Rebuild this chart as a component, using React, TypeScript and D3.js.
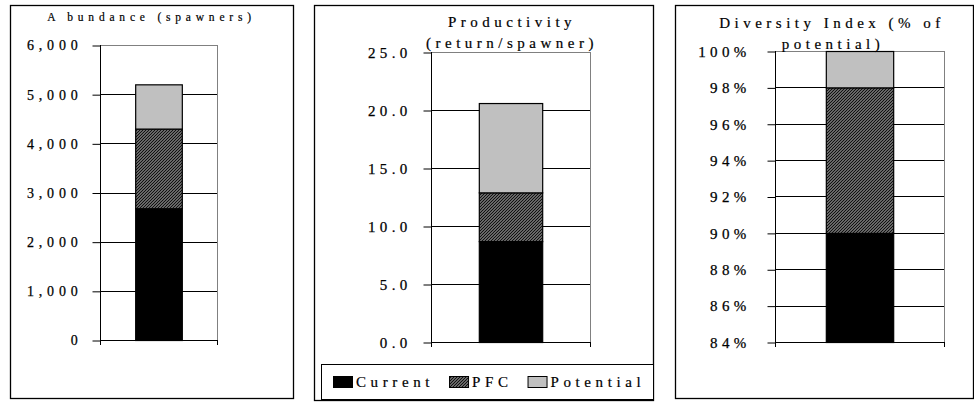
import React, {useEffect, useRef} from 'react';
import * as d3 from 'd3';

// series (segment sizes, stacked bottom to top)
const categories = ['Current', 'PFC', 'Potential'];
const abundanceValues = [2680, 1620, 900];
const productivityValues = [8.7, 4.2, 7.7];
const diversityValues = [0.9, 0.08, 0.02];

// tick labels
const abundanceTicks = [0, 1000, 2000, 3000, 4000, 5000, 6000];
const productivityTicks = [0, 5, 10, 15, 20, 25];
const diversityTicks = [0.84, 0.86, 0.88, 0.9, 0.92, 0.94, 0.96, 0.98, 1.0];

const colors: Record<string, string> = {
  Current: '#000000',
  PFC: 'url(#hatch)',
  Potential: '#c0c0c0',
};

const FONT = "'Liberation Serif', 'Times New Roman', serif";

interface PanelCfg {
  box: [number, number, number, number];
  plot: {left: number; right: number; top: number; bottom: number};
  values: number[];
  ticks: number[];
  format: (v: number) => string;
  tickSize: number;
  tickSpacing: number;
  tickPad: number;
  title: {text: string; x: number; y: number}[];
  titleSize: number;
  titleSpacing: number;
}

const panels: PanelCfg[] = [
  {
    box: [10, 5, 293, 398],
    plot: {left: 100, right: 217, top: 45, bottom: 340},
    values: abundanceValues,
    ticks: abundanceTicks,
    format: d3.format(','),
    tickSize: 14,
    tickSpacing: 4.8,
    tickPad: 10,
    title: [{text: 'A bundance (spawners)', x: 151.5, y: 21}],
    titleSize: 11.5,
    titleSpacing: 4.8,
  },
  {
    box: [314, 5, 653, 400],
    plot: {left: 431, right: 590, top: 52, bottom: 342},
    values: productivityValues,
    ticks: productivityTicks,
    format: d3.format('.1f'),
    tickSize: 15,
    tickSpacing: 4.3,
    tickPad: 12,
    title: [
      {text: 'Productivity', x: 512, y: 27},
      {text: '(return/spawner)', x: 512, y: 48},
    ],
    titleSize: 15,
    titleSpacing: 4.5,
  },
  {
    box: [675, 5, 973, 398],
    plot: {left: 775, right: 944, top: 51, bottom: 342},
    values: diversityValues,
    ticks: diversityTicks,
    format: d3.format('.0%'),
    tickSize: 15,
    tickSpacing: 4.3,
    tickPad: 17,
    title: [
      {text: 'Diversity Index (% of', x: 832, y: 28},
      {text: 'potential)', x: 833, y: 49},
    ],
    titleSize: 15,
    titleSpacing: 4.5,
  },
];

const App: React.FC = () => {
  const svgRef = useRef<SVGSVGElement>(null);

  useEffect(() => {
    const svg = d3.select(svgRef.current);
    svg.selectAll('*').remove();

    // hatch pattern for PFC (dark upward diagonal)
    const pat = svg
      .append('defs')
      .append('pattern')
      .attr('id', 'hatch')
      .attr('patternUnits', 'userSpaceOnUse')
      .attr('width', 3)
      .attr('height', 3);
    pat.append('rect').attr('width', 3).attr('height', 3).attr('fill', '#c8c8c8');
    pat
      .append('path')
      .attr('d', 'M-1,1 L1,-1 M0,3 L3,0 M2,4 L4,2')
      .attr('stroke', '#111')
      .attr('stroke-width', 1.5);

    panels.forEach((p) => {
      const g = svg.append('g');
      const [x0, y0, x1, y1] = p.box;
      g.append('rect')
        .attr('x', x0 + 0.5)
        .attr('y', y0 + 0.5)
        .attr('width', x1 - x0)
        .attr('height', y1 - y0)
        .attr('fill', '#fff')
        .attr('stroke', '#000')
        .attr('stroke-width', 1.3);

      const y = d3
        .scaleLinear()
        .domain([p.ticks[0], p.ticks[p.ticks.length - 1]])
        .range([p.plot.bottom, p.plot.top])
        .clamp(true);
      const x = d3
        .scaleBand()
        .domain(['s'])
        .range([p.plot.left, p.plot.right])
        .padding(0.43);

      // plot area outline (grey)
      g.append('rect')
        .attr('x', p.plot.left + 0.5)
        .attr('y', p.plot.top + 0.5)
        .attr('width', p.plot.right - p.plot.left)
        .attr('height', p.plot.bottom - p.plot.top)
        .attr('fill', 'none')
        .attr('stroke', '#808080');

      // gridlines
      g.selectAll('.grid')
        .data(p.ticks.slice(1, -1))
        .enter()
        .append('line')
        .attr('x1', p.plot.left)
        .attr('x2', p.plot.right)
        .attr('y1', (d) => Math.round(y(d)) + 0.5)
        .attr('y2', (d) => Math.round(y(d)) + 0.5)
        .attr('stroke', '#000');

      // stacked bar
      const row: any = {s: 's'};
      categories.forEach((c, i) => (row[c] = p.values[i]));
      const series = d3.stack().keys(categories)([row]);
      series.forEach((s) => {
        const d = s[0];
        g.append('rect')
          .attr('x', x('s')! + 0.5)
          .attr('width', x.bandwidth())
          .attr('y', y(d[1]) + 0.5)
          .attr('height', Math.max(0, y(d[0]) - y(d[1])))
          .attr('fill', colors[s.key])
          .attr('stroke', '#000')
          .attr('stroke-width', 1.2);
      });

      // left axis
      const axis = d3
        .axisLeft(y)
        .tickValues(p.ticks)
        .tickFormat((v: any) => p.format(v))
        .tickSize(8)
        .tickPadding(p.tickPad);
      const ag = g
        .append('g')
        .attr('transform', `translate(${p.plot.left + 0.5},0.5)`)
        .call(axis as any);
      ag.select('.domain').remove();
      ag.selectAll('line').attr('stroke', '#000');
      ag.selectAll('text')
        .attr('font-family', FONT)
        .attr('font-size', p.tickSize)
        .attr('letter-spacing', p.tickSpacing)
        .attr('fill', '#000')
        .attr('stroke', '#000')
        .attr('stroke-width', 0.25);
      g.append('line')
        .attr('x1', p.plot.left + 0.5)
        .attr('x2', p.plot.left + 0.5)
        .attr('y1', p.plot.top)
        .attr('y2', p.plot.bottom + 5)
        .attr('stroke', '#000');

      // bottom axis
      g.append('line')
        .attr('x1', p.plot.left)
        .attr('x2', p.plot.right + 1)
        .attr('y1', p.plot.bottom + 0.5)
        .attr('y2', p.plot.bottom + 0.5)
        .attr('stroke', '#000');
      g.append('line')
        .attr('x1', p.plot.right + 0.5)
        .attr('x2', p.plot.right + 0.5)
        .attr('y1', p.plot.bottom)
        .attr('y2', p.plot.bottom + 5)
        .attr('stroke', '#000');

      // title
      p.title.forEach((t) => {
        g.append('text')
          .attr('x', t.x)
          .attr('y', t.y)
          .attr('text-anchor', 'middle')
          .attr('font-family', FONT)
          .attr('font-size', p.titleSize)
          .attr('letter-spacing', p.titleSpacing)
          .attr('stroke', '#000')
          .attr('stroke-width', 0.2)
          .text(t.text);
      });
    });

    // legend in the middle panel
    const lg = svg.append('g');
    lg.append('rect')
      .attr('x', 321.5)
      .attr('y', 364.5)
      .attr('width', 332)
      .attr('height', 35)
      .attr('fill', '#fff')
      .attr('stroke', '#000');
    let lx = 333;
    categories.forEach((c) => {
      lg.append('rect')
        .attr('x', lx + 0.5)
        .attr('y', 376.5)
        .attr('width', 19)
        .attr('height', 11)
        .attr('fill', colors[c])
        .attr('stroke', '#000');
      const t = lg
        .append('text')
        .attr('x', lx + 23)
        .attr('y', 387)
        .attr('font-family', FONT)
        .attr('font-size', 15)
        .attr('letter-spacing', 4.6)
        .attr('stroke', '#000')
        .attr('stroke-width', 0.2)
        .text(c);
      const w = (t.node() as SVGTextElement).getComputedTextLength();
      lx += 23 + w + 15;
    });
  }, []);

  return (
    <svg
      ref={svgRef}
      width={974}
      height={406}
      style={{position: 'absolute', left: 0, top: 0, background: '#fff'}}
    />
  );
};

export default App;
